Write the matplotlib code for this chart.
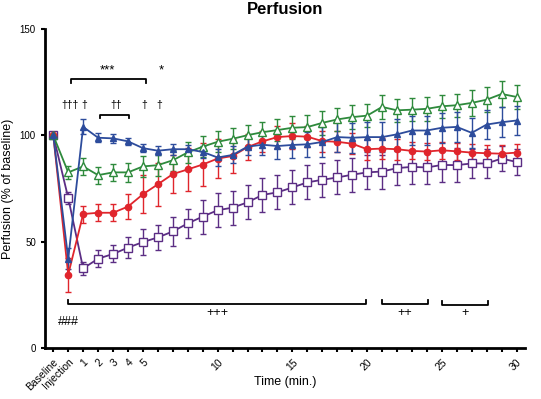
import matplotlib
matplotlib.use('Agg')
import matplotlib.pyplot as plt

plt.rcParams['font.family'] = ['Liberation Sans', 'DejaVu Sans']

# time points: -1 = baseline, 0 = injection, then minutes 1..30
minutes = list(range(-1, 31))
tick_labels = {-1: 'Baseline', 0: 'Injection', 1: '1', 2: '2', 3: '3', 4: '4', 5: '5',
               10: '10', 15: '15', 20: '20', 25: '25', 30: '30'}

blue = [100, 42, 104, 98.9, 98.6, 97.2, 94, 92.8, 93.5, 93.5, 92.2, 89.6, 90.8, 94.7, 95.6, 95,
        95.5, 95.8, 96.9, 99.2, 98.9, 99.2, 99.2, 100.5, 102.3, 102.3, 103.6, 104, 101.2, 105.1, 106.2, 107]
blue_err = [0, 5, 3.5, 2, 2, 1.5, 2, 2, 2.5, 2, 3, 4, 4, 4, 5, 6,
            6, 6, 7, 7, 7, 7, 7, 7, 7, 7, 7, 7, 7, 7, 7, 7]

green = [100, 82.6, 85.4, 81.3, 82.6, 82.6, 85.4, 86, 88.3, 92, 94.7, 97, 98.4, 100.1, 101.5, 102.5,
         103.6, 103.9, 105.9, 107.5, 108.6, 109.3, 113.4, 111.8, 112.1, 112.5, 113.7, 114.2, 115.3, 116.8, 119.5, 118.1]
green_err = [0, 3, 4, 4, 4, 4.5, 5, 5, 5, 5, 5, 5, 5, 5, 5, 5,
             5.5, 5.5, 5.5, 5.5, 5.5, 5.5, 5.5, 5.5, 5.5, 5.5, 5.5, 5.5, 6, 6, 6, 5.5]

red = [100, 34.5, 63, 63.6, 63.6, 66.5, 72.3, 77, 81.8, 84, 86.3, 89.1, 90.3, 94.5, 97.2, 99.2,
       99.7, 99.4, 97.3, 97, 96.1, 93.5, 93.8, 93.5, 92.7, 92.4, 93, 92.5, 91.9, 91.6, 91.4, 91.9]
red_err = [0, 8, 4, 4, 4, 6, 9, 10, 9, 10, 10, 9, 8, 6, 5, 5,
           6, 5, 5, 5, 5, 5, 5, 5, 4, 4, 4, 4, 4, 4, 4, 4]

purple = [100, 70.6, 37.4, 42, 44.2, 47.2, 49.8, 52, 54.8, 58.6, 61.8, 64.8, 66, 68.5, 72, 73.2,
          75.5, 77.9, 79.1, 80.2, 81.5, 82.6, 83, 84.6, 85.2, 84.9, 86.1, 86, 86.8, 86.8, 89.1, 87.5]
purple_err = [0, 3, 3, 4, 4, 5, 6, 6, 7, 7, 8, 8, 8, 8, 8, 8,
              8, 8, 8, 8, 8, 8, 8, 8, 8, 8, 8, 8, 7, 7, 6, 6]

fig = plt.figure(figsize=(5.41, 3.99), dpi=100)
ax = fig.add_axes([0.083, 0.128, 0.887, 0.799])

series = [
    (purple, purple_err, '#5b2d84', 's', 'white', 5.5),
    (red, red_err, '#e0252c', 'o', '#e0252c', 4.5),
    (green, green_err, '#2e8a3c', '^', 'white', 5.5),
    (blue, blue_err, '#2d4c9c', '^', '#2d4c9c', 4.5),
]
for vals, err, col, mk, face, ms in series:
    ax.errorbar(minutes, vals, yerr=err, color=col, marker=mk, markerfacecolor=face,
                markeredgecolor=col, markersize=ms, linewidth=1.3, elinewidth=1.0,
                capsize=2.5, capthick=1.0)

ax.set_xlim(-1.56, 30.55)
ax.set_ylim(0, 150)
ax.set_yticks([0, 50, 100, 150])
ax.tick_params(axis='y', labelsize=7, length=3, width=1.5)
ax.set_xticks(minutes)
ax.set_xticklabels([tick_labels.get(m, '') for m in minutes], rotation=45, ha='right',
                   rotation_mode='anchor', fontsize=7.5)
ax.tick_params(axis='x', length=3, width=1.5)
for s in ['top', 'right']:
    ax.spines[s].set_visible(False)
for s in ['left', 'bottom']:
    ax.spines[s].set_linewidth(2)

fig.text(0.527, 0.975, 'Perfusion', ha='center', va='center', fontsize=12, fontweight='bold')
ax.set_ylabel('Perfusion (% of baseline)', fontsize=9)
fig.text(0.527, 0.043, 'Time (min.)', ha='center', va='center', fontsize=9)


def bracket(x0, x1, y, h, text=None, ty=None):
    ax.plot([x0, x0, x1, x1], [y - h, y, y, y - h], color='black', linewidth=1.3)
    if text:
        ax.text((x0 + x1) / 2, ty, text, ha='center', va='center', fontsize=9)


# upper significance marks
bracket(0.2, 5.2, 126.6, 1.8)
ax.text(2.6, 130.5, '***', ha='center', va='center', fontsize=9.5)
ax.text(6.2, 130.5, '*', ha='center', va='center', fontsize=9.5)
bracket(2.1, 4.1, 109.8, 1.8)
for xm, s in [(0.1, '†††'), (1.1, '†'), (3.2, '††'), (5.1, '†'), (6.1, '†')]:
    ax.text(xm, 114.5, s, ha='center', va='center', fontsize=7.5)

# lower significance marks
bracket(0, 19.9, 20.9, -1.8, '+++', 16.4)
bracket(21.0, 24.05, 20.9, -1.8, '++', 16.6)
bracket(25.0, 28.1, 20.4, -1.8, '+', 16.4)
ax.text(0, 12.1, '###', ha='center', va='center', fontsize=9)

fig.savefig('out.png', dpi=100)
